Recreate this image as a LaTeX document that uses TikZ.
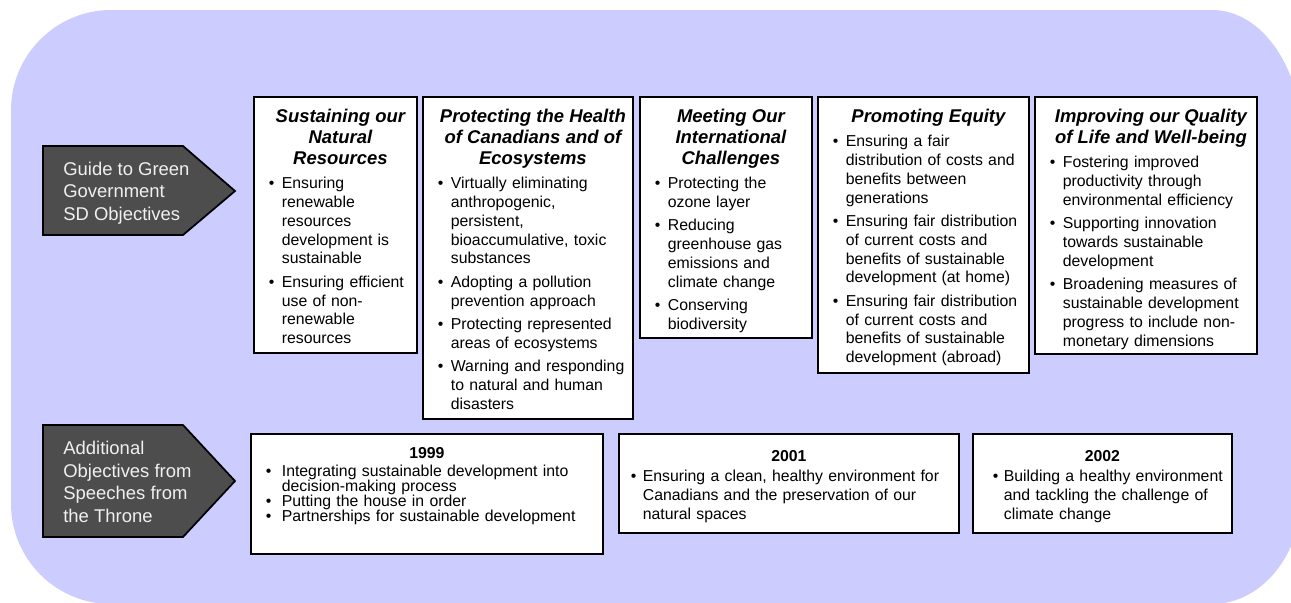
\documentclass[tikz,border=0pt]{standalone}
\usepackage{fontspec}
\setmainfont{Liberation Sans}
\usetikzlibrary{positioning}
\definecolor{periwinkle}{RGB}{204, 204, 255}
\definecolor{charcoal}{RGB}{77, 77, 77}
\definecolor{snow}{RGB}{240, 240, 240}

\newlength{\bulind}
\newlength{\bulgap}
% one bullet: dot, then a hanging block of hand-broken lines
\newcommand{\bul}[1]{\par\noindent\makebox[\bulind][l]{\textbullet}%
  \makebox[\dimexpr\hsize-\bulind\relax][l]{\parbox[t]{10cm}{\raggedright #1\strut}}%
  \par\prevdepth=\dp\strutbox\vspace{\bulgap}}
\newcommand{\objhead}[1]{{\centering\fontsize{10.5}{11.95}\selectfont\bfseries\itshape #1\par}\vspace{3pt}}
\newcommand{\yearhead}[2]{{\centering\bfseries #1\par}\vspace{#2}}

\begin{document}
\begin{tikzpicture}[x=0.02cm, y=-0.02cm,
    objbox/.style 2 args={draw=black, line width=1pt, fill=white, anchor=north west, inner sep=0pt,
                          minimum width=#1*0.02cm, minimum height=#2*0.02cm},
    objtext/.style={inner sep=0pt, text width=#1*0.02cm, font=\fontsize{9}{10.7}\selectfont,
                    execute at begin node={\setlength{\bulind}{0.26cm}\setlength{\bulgap}{2.6pt}}},
    yeartext/.style={inner sep=0pt, text width=#1*0.02cm},
    tag/.style={draw=black, line width=1pt, fill=charcoal},
    tagtext/.style={anchor=west, align=left, inner sep=0pt, text=snow, font=\fontsize{10.5}{12.8}\selectfont}]
\useasboundingbox (0,0) rectangle (1291,602);
\fill[periwinkle] (11,110)    .. controls (11,55)    and (56,10)    .. (111,10)
               -- (1212,10)   .. controls (1262,10)  and (1302,68)  .. (1302,140)
               -- (1302,493)  .. controls (1302,554) and (1262,604) .. (1212,604)
               -- (111,604)   .. controls (56,604)   and (11,559)   .. (11,504) -- cycle;

% row labels
\filldraw[tag] (43,146) -- (183,146) -- (235,191) -- (183,235) -- (43,235) -- cycle;
\node[tagtext] (guide)  at (63,193) {Guide to Green\\Government\\SD Objectives};
\filldraw[tag] (43,425) -- (183,425) -- (235,481) -- (183,537) -- (43,537) -- cycle;
\node[tagtext] (speech) at (63,482) {Additional\\Objectives from\\Speeches from\\the Throne};

% SD objectives
\node[objbox={163}{256}] (sust)    at (253,96)  {};
\node[objbox={210}{322}] (health)  at (422,96)  {};
\node[objbox={172}{241}] (intl)    at (639,96)  {};
\node[objbox={211}{276}] (equity)  at (817,96)  {};
\node[objbox={222}{257}] (quality) at (1034,96) {};

\node[objtext=143, below=0.26cm of sust.north, xshift=0.1cm] (sust-txt) {%
  \objhead{Sustaining our\\Natural\\Resources}
  \bul{Ensuring\\renewable\\resources\\development is\\sustainable}
  \bul{Ensuring efficient\\use of non-\\renewable\\resources}};
\node[objtext=190, below=0.26cm of health.north, xshift=0.1cm] (health-txt) {%
  \objhead{Protecting the Health\\of Canadians and of\\Ecosystems}
  \bul{Virtually eliminating\\anthropogenic,\\persistent,\\bioaccumulative, toxic\\substances}
  \bul{Adopting a pollution\\prevention approach}
  \bul{Protecting represented\\areas of ecosystems}
  \bul{Warning and responding\\to natural and human\\disasters}};
\node[objtext=152, below=0.26cm of intl.north, xshift=0.1cm] (intl-txt) {%
  \objhead{Meeting Our\\International\\Challenges}
  \bul{Protecting the\\ozone layer}
  \bul{Reducing\\greenhouse gas\\emissions and\\climate change}
  \bul{Conserving\\biodiversity}};
\node[objtext=191, below=0.26cm of equity.north, xshift=0.1cm] (equity-txt) {%
  \objhead{Promoting Equity}
  \bul{Ensuring a fair\\distribution of costs and\\benefits between\\generations}
  \bul{Ensuring fair distribution\\of current costs and\\benefits of sustainable\\development (at home)}
  \bul{Ensuring fair distribution\\of current costs and\\benefits of sustainable\\development (abroad)}};
\node[objtext=202, below=0.26cm of quality.north, xshift=0.1cm] (quality-txt) {%
  \objhead{Improving our Quality\\of Life and Well-being}
  \bul{Fostering improved\\productivity through\\environmental efficiency}
  \bul{Supporting innovation\\towards sustainable\\development}
  \bul{Broadening measures of\\sustainable development\\progress to include non-\\monetary dimensions}};

% Speeches from the Throne
\node[objbox={352}{120}] (y1999) at (250,433) {};
\node[objbox={340}{99}]  (y2001) at (618,433) {};
\node[objbox={259}{99}]  (y2002) at (972,433) {};

\node[yeartext=322, below=0.28cm of y1999.north, font=\fontsize{9}{8.6}\selectfont] (y1999-txt) {%
  \setlength{\bulind}{0.32cm}\setlength{\bulgap}{0pt}\lineskiplimit=-5pt
  \yearhead{1999}{1.5pt}
  \bul{Integrating sustainable development into\\decision-making process}
  \bul{Putting the house in order}
  \bul{Partnerships for sustainable development}};
\node[yeartext=316, below=0.35cm of y2001.north, font=\fontsize{9}{10.8}\selectfont] (y2001-txt) {%
  \setlength{\bulind}{0.24cm}\setlength{\bulgap}{0pt}%
  \yearhead{2001}{0.6pt}
  \bul{Ensuring a clean, healthy environment for\\Canadians and the preservation of our\\natural spaces}};
\node[yeartext=219, below=0.35cm of y2002.north, font=\fontsize{9}{10.8}\selectfont] (y2002-txt) {%
  \setlength{\bulind}{0.22cm}\setlength{\bulgap}{0pt}%
  \yearhead{2002}{0.6pt}
  \bul{Building a healthy environment\\and tackling the challenge of\\climate change}};
\end{tikzpicture}
\end{document}
